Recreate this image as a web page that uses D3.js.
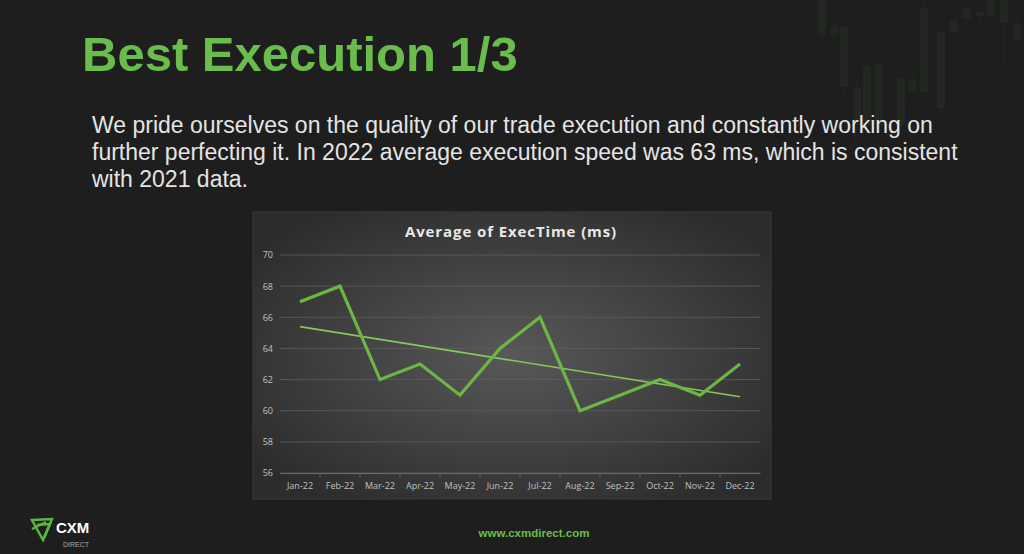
<!DOCTYPE html>
<html><head><meta charset="utf-8">
<script src="https://cdn.jsdelivr.net/npm/d3@7/dist/d3.min.js"></script>
<style>
html,body{margin:0;padding:0;background:#1e1e1e;overflow:hidden;}
svg{display:block;}
</style></head>
<body>
<script>
// ---- data ----
const months = ["Jan-22","Feb-22","Mar-22","Apr-22","May-22","Jun-22","Jul-22","Aug-22","Sep-22","Oct-22","Nov-22","Dec-22"];
const execTime = [67,68,62,63,61,64,66,60,61,62,61,63];
const trendEnds = [65.4, 60.9]; // linear trendline values at Jan-22 and Dec-22
const yTicks = [56,58,60,62,64,66,68,70];
const titleText = "Best Execution 1/3";
const bodyLines = [
  "We pride ourselves on the quality of our trade execution and constantly working on",
  "further perfecting it. In 2022 average execution speed was 63 ms, which is consistent",
  "with 2021 data."
];
const chartTitle = "Average of ExecTime (ms)";

const W = 1024, H = 554;
const svg = d3.select("body").append("svg").attr("width", W).attr("height", H);
const defs = svg.append("defs");

svg.append("rect").attr("width", W).attr("height", H).attr("fill", "#1e1e1e");

// decorative candlesticks (top-right background)
const candles = [
  [818,0,35,0,55],[830,27,33,20,40],[840,27,87,20,100],[853,87,125,80,130],
  [863,66,125,55,130],[875,65,125,60,130],[897,79,125,53,130],[908,79,92,70,100],
  [920,8,92,0,100],[937,32,108,0,120],[950,20,32,10,80],[963,8,18,0,55],
  [976,12,16,5,30],[987,0,15,0,25],[1000,0,23,0,70],[1013,23,40,10,55]
];
const deco = svg.append("g").attr("opacity", 0.28);
candles.forEach(c => {
  deco.append("line").attr("x1", c[0]+4).attr("x2", c[0]+4).attr("y1", c[3]).attr("y2", c[4])
    .attr("stroke", "#2c3626").attr("stroke-width", 1);
  deco.append("rect").attr("x", c[0]).attr("y", c[1]).attr("width", 8).attr("height", c[2]-c[1])
    .attr("fill", "#33402b");
});

// heading
svg.append("text").attr("x", 82).attr("y", 71)
  .attr("font-family", "Liberation Sans, Arial, sans-serif").attr("font-weight", "bold")
  .attr("font-size", 49).attr("fill", "#6abd4b").text(titleText);

// paragraph
svg.append("g").selectAll("text").data(bodyLines).join("text")
  .attr("x", 92).attr("y", (d,i) => 133 + i*26.8)
  .attr("font-family", "Liberation Sans, Arial, sans-serif")
  .attr("font-size", 23).attr("fill", "#e4e4e4").text(d => d);

// chart panel
const grad = defs.append("radialGradient").attr("id", "bg")
  .attr("cx", "50%").attr("cy", "50%").attr("r", "62%");
grad.append("stop").attr("offset", "0%").attr("stop-color", "#585858");
grad.append("stop").attr("offset", "100%").attr("stop-color", "#2c2c2c");
svg.append("rect").attr("x", 253).attr("y", 212).attr("width", 518).attr("height", 287)
  .attr("fill", "url(#bg)").attr("stroke", "#3a3a3a").attr("stroke-width", 1);

svg.append("text").attr("x", 511).attr("y", 237).attr("text-anchor", "middle")
  .attr("font-family", "Open Sans, sans-serif").attr("font-weight", "bold")
  .attr("font-size", 15).attr("letter-spacing", 0.9).attr("fill", "#e8e8e8").text(chartTitle);

const x = d3.scaleBand().domain(months).range([280, 760]);
const y = d3.scaleLinear().domain([56, 70]).range([473, 255]);

// gridlines
svg.append("g").selectAll("line").data(yTicks).join("line")
  .attr("x1", 280).attr("x2", 760).attr("y1", d => y(d)).attr("y2", d => y(d))
  .attr("stroke", "#5e5e5e").attr("stroke-width", 0.8);

// y axis
const yAxis = svg.append("g").attr("transform", "translate(273,0)")
  .call(d3.axisLeft(y).tickValues(yTicks).tickSize(0).tickPadding(0));
yAxis.select(".domain").remove();
yAxis.selectAll("text").attr("fill", "#c0c0c0").attr("font-size", 9)
  .attr("font-family", "Open Sans, sans-serif");

// x axis
const xAxis = svg.append("g").attr("transform", `translate(0,${y(56)})`)
  .call(d3.axisBottom(x).tickSize(0).tickPadding(10));
xAxis.select(".domain").attr("stroke", "#6a6a6a");
xAxis.selectAll("text").attr("fill", "#c0c0c0").attr("font-size", 9)
  .attr("font-family", "Open Sans, sans-serif");
svg.append("g").selectAll("line").data(months.slice(1)).join("line")
  .attr("x1", d => x(d)).attr("x2", d => x(d)).attr("y1", y(56)).attr("y2", y(56)+4)
  .attr("stroke", "#6a6a6a");

const cx = d => x(d) + x.bandwidth()/2;

// trendline
svg.append("line")
  .attr("x1", cx(months[0])).attr("y1", y(trendEnds[0]))
  .attr("x2", cx(months[months.length-1])).attr("y2", y(trendEnds[1]))
  .attr("stroke", "#86c85a").attr("stroke-width", 1.6);

// main line
const line = d3.line().x((d,i) => cx(months[i])).y(d => y(d));
svg.append("path").datum(execTime).attr("d", line)
  .attr("fill", "none").attr("stroke", "#6cb744").attr("stroke-width", 3.2)
  .attr("stroke-linejoin", "miter");

// logo
const logo = svg.append("g").attr("transform", "translate(31,518)")
  .attr("fill", "none").attr("stroke", "#5db83a").attr("stroke-width", 2.4).attr("stroke-linejoin", "miter");
logo.append("path").attr("d", "M1,2 L21,1 L12,22 Z");
logo.append("path").attr("d", "M6,7 L19,6 L13,20");
logo.append("path").attr("d", "M1,11 L15,4");
svg.append("text").attr("x", 56).attr("y", 533)
  .attr("font-family", "Liberation Sans, Arial, sans-serif").attr("font-weight", "bold")
  .attr("font-size", 15).attr("fill", "#ffffff").text("CXM");
svg.append("text").attr("x", 63).attr("y", 547)
  .attr("font-family", "Liberation Sans Narrow, Liberation Sans, sans-serif")
  .attr("font-size", 7).attr("fill", "#aaaaaa").text("DIRECT");

// url
svg.append("text").attr("x", 534).attr("y", 537).attr("text-anchor", "middle")
  .attr("font-family", "Liberation Sans, Arial, sans-serif").attr("font-weight", "bold")
  .attr("font-size", 11.5).attr("fill", "#6abd4b").text("www.cxmdirect.com");
</script>
</body></html>
